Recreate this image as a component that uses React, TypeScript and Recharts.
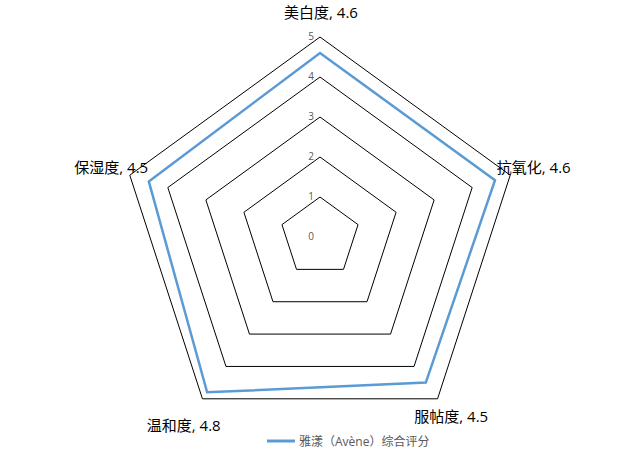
import React from 'react';
import { RadarChart, Radar, PolarGrid, PolarAngleAxis, PolarRadiusAxis, Legend } from 'recharts';

const categories = ['美白度', '抗氧化', '服帖度', '温和度', '保湿度'];
const scores = [4.6, 4.6, 4.5, 4.8, 4.5];
const radiusTicks = [0, 1, 2, 3, 4, 5];
const seriesName = '雅漾（Avène）综合评分';

const data = categories.map((c, i) => ({ name: c, value: scores[i] }));

const FONT = "'Open Sans', 'Noto Sans CJK SC', sans-serif";

const labelStyle: { dx: number; dy: number; anchor: 'start' | 'middle' | 'end' }[] = [
  { dx: 1, dy: -17, anchor: 'middle' },
  { dx: -21, dy: -6, anchor: 'start' },
  { dx: 9, dy: 11, anchor: 'middle' },
  { dx: -14, dy: 20, anchor: 'middle' },
  { dx: 26, dy: -6, anchor: 'end' },
];

const AngleTick = (props: any) => {
  const { x, y, payload, index } = props;
  const s = labelStyle[index] || { dx: 0, dy: 0, anchor: 'middle' };
  return (
    <text
      x={x + s.dx}
      y={y + s.dy}
      textAnchor={s.anchor}
      dominantBaseline="central"
      fontSize={15}
      fontFamily={FONT}
      fill="#000"
    >
      {`${payload.value}, ${scores[index]}`}
    </text>
  );
};

const RadiusTick = (props: any) => {
  const { x, y, payload } = props;
  return (
    <text x={x - 6} y={y} dy={-1} textAnchor="end" dominantBaseline="central" fontSize={10} fontFamily={FONT} fill="#595959">
      {payload.value}
    </text>
  );
};

const LegendContent = () => (
  <div style={{ display: 'flex', alignItems: 'center', fontFamily: FONT, fontSize: 12, color: '#595959', whiteSpace: 'nowrap' }}>
    <svg width={30} height={10} style={{ marginRight: 3 }}>
      <line x1={1} y1={5} x2={29} y2={5} stroke="#5B9BD5" strokeWidth={3} />
    </svg>
    <span>{seriesName}</span>
  </div>
);

export default function App() {
  return (
    <div style={{ position: 'absolute', left: 0, top: 0, width: 640, height: 450, background: '#fff' }}>
      <RadarChart width={640} height={450} data={data} cx={320} cy={237} outerRadius={200} margin={{ top: 0, right: 0, bottom: 0, left: 0 }}>
        <PolarGrid gridType="polygon" radialLines={false} stroke="#000" strokeWidth={1} />
        <PolarAngleAxis dataKey="name" tick={<AngleTick />} tickLine={false} axisLine={false} />
        <PolarRadiusAxis angle={90} domain={[0, 5]} ticks={radiusTicks} tickCount={6} axisLine={false} tickLine={false} tick={<RadiusTick />} />
        <Radar name={seriesName} dataKey="value" stroke="#5B9BD5" strokeWidth={2.5} fill="none" fillOpacity={0} dot={false} isAnimationActive={false} />
        <Legend content={<LegendContent />} wrapperStyle={{ position: 'absolute', top: 432, left: 266, width: 'auto' }} />
      </RadarChart>
    </div>
  );
}
